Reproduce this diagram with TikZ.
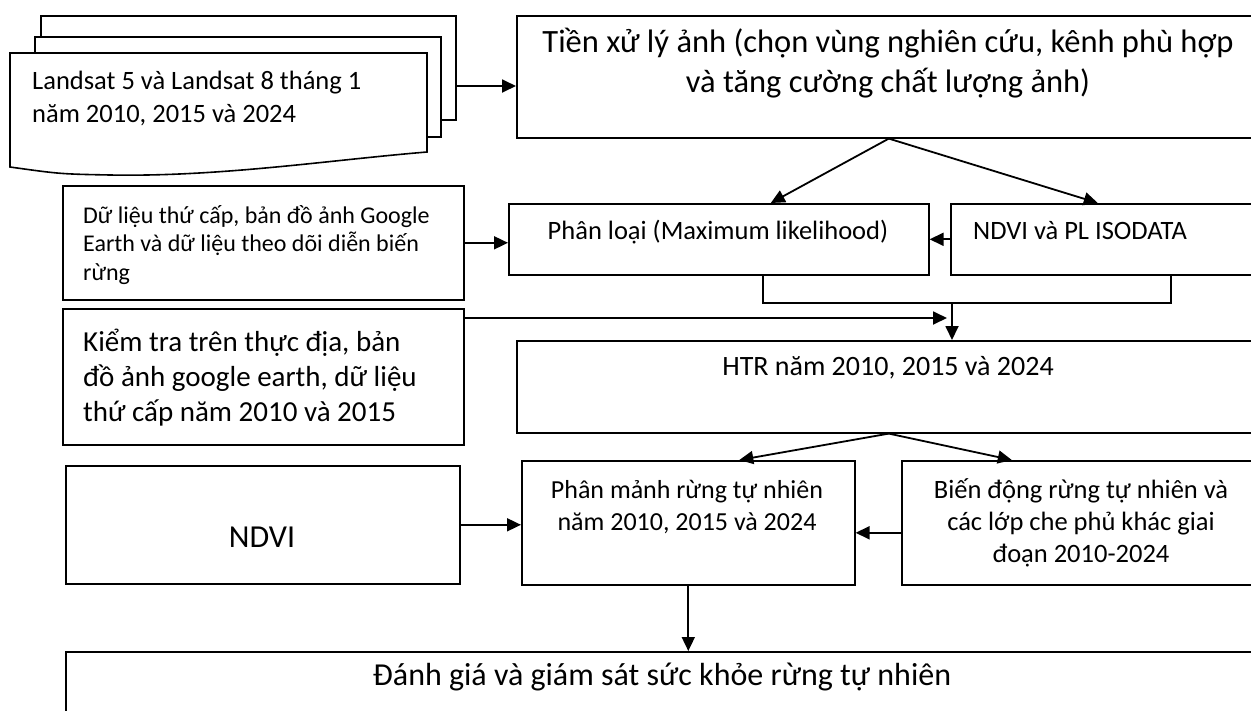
\documentclass[tikz,border=0pt]{standalone}
\usepackage{fontspec}
\setmainfont{Carlito}
\usetikzlibrary{positioning,calc,arrows.meta}
\tikzset{flow edge/.style={line width=1.8pt,-{Triangle[length=14pt,width=13pt]}},
 plain edge/.style={line width=1.8pt},
 box/.style={draw,line width=1.6pt,inner sep=0pt,anchor=north west,fill=white},
 txt/.style={inner sep=0pt,align=center,anchor=base},
 ltxt/.style={inner sep=0pt,align=left,anchor=base west}}

\begin{document}
\begin{tikzpicture}[x=1pt,y=-1pt]
\useasboundingbox (0,0) rectangle (1251,710);
\clip (0,0) rectangle (1251,710);

% stack of images
\draw[line width=1.6pt,fill=white] (41,16) rectangle (456,120);
\draw[line width=1.6pt,fill=white] (35,37) rectangle (441,137);
\draw[line width=1.6pt,fill=white] (10,53) -- (427,53) -- (427,152)
 .. controls (330,160) and (220,177) .. (110,175) .. controls (60,174) .. (10,167) -- cycle;
\node[ltxt,font=\fontsize{26.5}{33}\selectfont] (landsat) at (32,122) {Landsat 5 và Landsat 8 tháng 1\\năm 2010, 2015 và 2024};
\coordinate (docs) at (456,86);

\node[box,minimum width=744,minimum height=122] (prep) at (516,15) {};
\node[txt,font=\fontsize{32.5}{40}\selectfont] (preptxt) at (888,92) {Tiền xử lý ảnh (chọn vùng nghiên cứu, kênh phù hợp\\và tăng cường chất lượng ảnh)};

\node[box,minimum width=401,minimum height=114] (aux) at (62,185) {};
\node[ltxt,font=\fontsize{24}{28.5}\selectfont] (auxtxt) at (83,280) {Dữ liệu thứ cấp, bản đồ ảnh Google\\Earth và dữ liệu theo dõi diễn biến\\rừng};

\node[box,minimum width=420,minimum height=71] (classify) at (508,203) {};
\node[txt,font=\fontsize{26.5}{32}\selectfont] (classifytxt) at (718,239) {Phân loại (Maximum likelihood)};

\node[box,minimum width=310,minimum height=71] (isodata) at (950,203) {};
\node[ltxt,font=\fontsize{26.5}{32}\selectfont] (isodatatxt) at (973,239) {NDVI và PL ISODATA};

\node[box,minimum width=401,minimum height=136] (field) at (62,308) {};
\node[ltxt,font=\fontsize{29}{35}\selectfont] (fieldtxt) at (83,421) {Kiểm tra trên thực địa, bản\\đồ ảnh google earth, dữ liệu\\thứ cấp năm 2010 và 2015};

\node[box,minimum width=744,minimum height=92] (htr) at (516,340) {};
\node[txt,font=\fontsize{28}{34}\selectfont] (htrtxt) at (888,375) {HTR năm 2010, 2015 và 2024};

\node[box,minimum width=394,minimum height=118] (ndvi) at (65,465) {};
\node[txt,font=\fontsize{32}{38}\selectfont] (ndvitxt) at (262,547) {NDVI};

\node[box,minimum width=333,minimum height=124] (frag) at (521,460) {};
\node[txt,font=\fontsize{26}{32}\selectfont] (fragtxt) at (687,530) {Phân mảnh rừng tự nhiên\\năm 2010, 2015 và 2024};

\node[box,minimum width=360,minimum height=124] (change) at (901,460) {};
\node[txt,font=\fontsize{26.5}{32}\selectfont] (changetxt) at (1081,562) {Biến động rừng tự nhiên và\\các lớp che phủ khác giai\\đoạn 2010-2024};

\node[box,minimum width=1195,minimum height=100] (assess) at (65,651) {};
\node[txt,font=\fontsize{32}{40}\selectfont] (assesstxt) at (662,685) {Đánh giá và giám sát sức khỏe rừng tự nhiên};

\coordinate (join) at (952,303);
\coordinate (fieldtip) at (947,318);
\coordinate (changeout) at ($(change.west)+(0,10)$);

\draw[flow edge] (docs) -- (docs -| prep.west);
\draw[flow edge] (prep.south) -- ($(classify.north)+(52,0)$);
\draw[flow edge] (prep.south) -- ($(isodata.north)+(-8,0)$);
\draw[flow edge] (aux.east) -- (aux.east -| classify.west);
\draw[flow edge] (isodata.west) -- (classify.east);
\draw[plain edge] ($(classify.south)+(44,0)$) |- (join) -| ($(isodata.south)+(65,0)$);
\draw[flow edge] (join) -- (join |- htr.north);
\draw[flow edge] (field.north east |- fieldtip) -- (fieldtip);
\draw[flow edge] (htr.south) -- ($(frag.north)+(51,0)$);
\draw[flow edge] (htr.south) -- ($(change.north)+(-70,0)$);
\draw[flow edge] (ndvi.east) -- (ndvi.east -| frag.west);
\draw[flow edge] (changeout) -- (changeout -| frag.east);
\draw[flow edge] (frag.south) -- (frag.south |- assess.north);
\end{tikzpicture}
\end{document}
